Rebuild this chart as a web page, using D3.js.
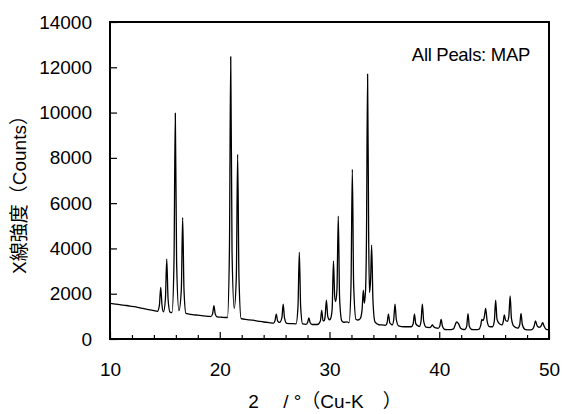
<!DOCTYPE html>
<html><head><meta charset="utf-8">
<script src="https://cdn.jsdelivr.net/npm/d3@7"></script>
<style>
html,body{margin:0;padding:0;background:#fff;}
svg text{font-family:"Liberation Sans",Arial,"Noto Sans CJK JP",sans-serif;fill:#000;}
</style></head>
<body>
<svg id="chart" width="562" height="414"></svg>
<script>
// X-ray diffraction pattern: [2θ (deg), counts]
const pattern = [
 [10.0,1570],[10.5,1540],[11.0,1510],[11.5,1480],[12.0,1440],[12.5,1400],[13.0,1350],[13.5,1300],[14.0,1250],
 [14.32,1220],[14.50,1485],[14.62,2280],[14.74,1480],[14.87,1200],
 [15.05,1780],[15.17,3530],[15.29,1780],[15.47,1190],
 [15.65,1170],[15.83,3370],[15.95,9970],[16.07,3370],[16.28,1250],
 [16.50,2200],[16.62,5360],[16.74,2200],[16.92,1130],
 [17.5,1080],[18.0,1050],[18.5,1020],[19.0,1000],
 [19.17,990],[19.35,1110],[19.47,1470],[19.59,1100],[19.77,975],
 [20.2,960],[20.7,950],[20.88,3830],[21.0,12470],[21.12,3830],[21.32,1355],
 [21.51,2750],[21.63,8155],[21.75,2750],[21.95,900],
 [22.5,860],[23.0,830],[23.5,790],[24.0,750],[24.5,720],[24.9,700],
 [25.03,800],[25.15,1100],[25.27,800],[25.45,730],
 [25.66,930],[25.78,1540],[25.90,930],[26.1,690],
 [26.5,680],[26.95,670],[27.13,1460],[27.25,3830],[27.37,1460],[27.55,670],
 [27.85,650],[28.0,720],[28.12,930],[28.24,720],[28.42,640],
 [28.9,640],[29.17,800],[29.29,1260],[29.41,820],[29.5,800],
 [29.6,990],[29.72,1720],[29.84,1000],[30.0,850],
 [30.1,900],[30.24,1300],[30.36,3440],[30.47,1900],[30.56,1650],
 [30.68,2200],[30.8,5430],[30.92,1800],[31.12,800],[31.3,740],[31.6,760],
 [31.78,720],[31.96,2400],[32.08,7490],[32.2,2400],[32.42,860],[32.6,840],
 [32.8,900],[32.97,1300],[33.08,2160],[33.17,1580],[33.28,2100],
 [33.37,4500],[33.47,11700],[33.57,4500],[33.64,2050],
 [33.75,2700],[33.84,4150],[33.96,1700],[34.14,760],[34.5,630],[35.0,610],
 [35.1,600],[35.25,720],[35.37,1100],[35.49,720],[35.65,640],
 [35.72,620],[35.85,850],[35.97,1540],[36.09,850],[36.3,580],
 [36.8,540],[37.45,540],[37.62,660],[37.74,1100],[37.86,680],[38.06,580],
 [38.2,560],[38.34,790],[38.46,1540],[38.58,790],[38.8,520],
 [39.1,500],[39.25,540],[39.38,620],[39.5,540],[39.7,490],
 [39.9,470],[40.05,570],[40.17,870],[40.29,560],[40.5,420],
 [40.9,410],[41.3,450],[41.45,620],[41.58,760],[41.75,680],[41.95,470],
 [42.2,420],[42.35,430],[42.5,560],[42.62,1120],[42.74,560],[42.95,420],
 [43.3,410],[43.6,430],[43.78,600],[43.88,870],[43.98,820],[44.1,960],[44.23,1355],[44.36,800],[44.55,550],
 [44.85,540],[45.02,800],[45.14,1720],[45.26,880],[45.45,690],
 [45.7,620],[45.83,760],[45.93,1060],[46.05,820],[46.2,780],
 [46.34,1000],[46.46,1900],[46.58,900],[46.8,560],
 [47.15,480],[47.33,620],[47.45,1130],[47.57,640],[47.8,430],
 [48.2,400],[48.45,410],[48.64,560],[48.77,800],[48.92,580],[49.1,520],
 [49.2,530],[49.3,600],[49.42,720],[49.56,560],[49.75,420],[50.0,400]
];
const xMajorTicks = [10, 20, 30, 40, 50];
const xMinorTicks = [12,14,16,18,22,24,26,28,32,34,36,38,42,44,46,48];
const yTicks = [0, 2000, 4000, 6000, 8000, 10000, 12000, 14000];
const xDomain = [10, 50];
const yDomain = [0, 14000];
const yTitle = "X線強度（Counts）";
const xTitle = "2\u3000 / °（Cu-K\u3000）";
const note = "All Peals: MAP";

const svg = d3.select("#chart");
const L = 110, R = 549, T = 22, B = 339;
const x = d3.scaleLinear().domain(xDomain).range([L, R]);
const y = d3.scaleLinear().domain(yDomain).range([B, T]);

// data line
svg.append("path")
  .datum(pattern)
  .attr("fill", "none")
  .attr("stroke", "#000")
  .attr("stroke-width", 1.3)
  .attr("stroke-linejoin", "round")
  .attr("d", d3.line().x(d => x(d[0])).y(d => y(d[1])).curve(d3.curveMonotoneX));

// axes
const yAxis = d3.axisLeft(y).tickValues(yTicks).tickSize(-7).tickPadding(18).tickFormat(d3.format("d"));
const gy = svg.append("g").attr("transform", `translate(${L},0)`).call(yAxis);
gy.select(".domain").remove();
gy.selectAll("text").style("font-size", "19px");
gy.selectAll("line").attr("stroke-width", 1.2);

const xAxis = d3.axisBottom(x).tickValues(xMajorTicks).tickSize(-7).tickPadding(24).tickFormat(d3.format("d"));
const gx = svg.append("g").attr("transform", `translate(0,${B})`).call(xAxis);
gx.select(".domain").remove();
gx.selectAll("text").style("font-size", "19px");
gx.selectAll("line").attr("stroke-width", 1.2);

const xMinor = d3.axisBottom(x).tickValues(xMinorTicks).tickSize(-4).tickFormat("");
const gxm = svg.append("g").attr("transform", `translate(0,${B})`).call(xMinor);
gxm.select(".domain").remove();
gxm.selectAll("line").attr("stroke-width", 1.2);

// frame
svg.append("rect").attr("x", L).attr("y", T).attr("width", R - L).attr("height", B - T)
  .attr("fill", "none").attr("stroke", "#000").attr("stroke-width", 2);

// titles
svg.append("text").attr("x", 325).attr("y", 408).attr("text-anchor", "middle")
  .style("font-size", "19px").text(xTitle);
svg.append("text").attr("transform", "translate(26,190) rotate(-90)").attr("text-anchor", "middle")
  .style("font-size", "19px").text(yTitle);
svg.append("text").attr("x", 530).attr("y", 61).attr("text-anchor", "end")
  .style("font-size", "18.5px").style("letter-spacing", "-0.3px").text(note);
</script>
</body></html>
